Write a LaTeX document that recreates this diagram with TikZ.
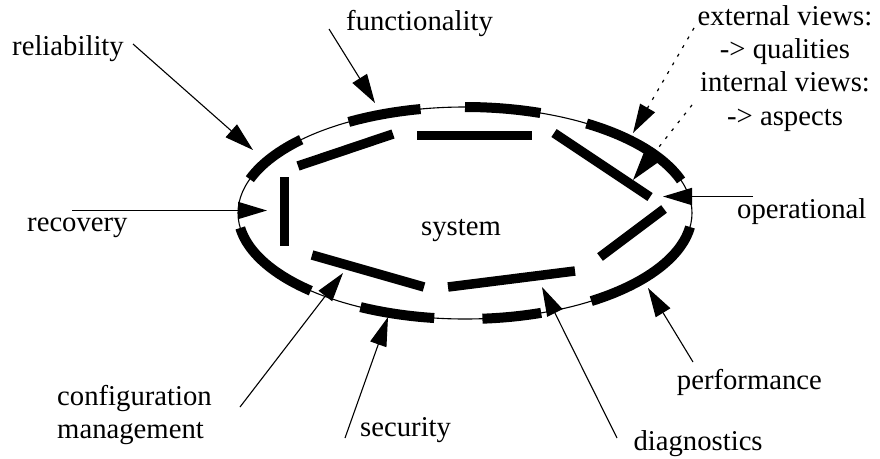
\documentclass[tikz,border=0pt]{standalone}
\usepackage{fontspec}
\setmainfont{Liberation Serif}
\usetikzlibrary{arrows.meta}

\tikzset{
  rim/.style={line width=1.1pt},
  outerseg/.style={line width=10pt},
  innerbar/.style={line width=9.5pt},
  pointer/.style={line width=1.1pt, -{Triangle[length=29pt,width=17pt]}},
  flatptr/.style={pointer, line width=1.8pt},
  viewptr/.style={pointer, line width=1.2pt, dash pattern=on 3pt off 7pt},
  lbl/.style={font=\fontsize{28.7}{33.2}\selectfont, inner sep=0pt, anchor=base west},
}

% thick piece of the system boundary between two parameter angles
\newcommand{\rimpiece}[2]{%
  \draw[outerseg] plot[domain=#1:#2, samples=40, variable=\t]
    ({465+227*cos(\t)},{213+106*sin(\t)});}

\begin{document}
\begin{tikzpicture}[x=1pt,y=-1pt]
  \useasboundingbox (0,0) rectangle (880,458);

  % system boundary
  \draw[rim] (465,213) ellipse [x radius=227, y radius=106];
  \rimpiece{198.6}{223.8}
  \rimpiece{239.2}{258.7}
  \rimpiece{270}{289.4}
  \rimpiece{302.4}{342.1}
  \rimpiece{7.6}{56.2}
  \rimpiece{70.4}{85.6}
  \rimpiece{97.8}{117.4}
  \rimpiece{132.8}{171.9}

  % inner structure
  \draw[innerbar] (298,166) -- (393,134);
  \draw[innerbar] (417,135.5) -- (532,135.5);
  \draw[innerbar] (554,133) -- (650,197);
  \draw[innerbar] (664,209) -- (600,257);
  \draw[innerbar] (448,287) -- (575,271);
  \draw[innerbar] (312,255) -- (424,287);
  \draw[innerbar] (284.3,177) -- (284.3,246);

  % labels
  \node[lbl] (rel) at (12,55) {reliability};
  \node[lbl] (fun) at (346,30) {functionality};
  \node[lbl, anchor=base, align=center] (views) at (785,125)
    {external views:\\-> qualities\\internal views:\\-> aspects};
  \node[lbl] (ope) at (737,218) {operational};
  \node[lbl] (rec) at (27,231) {recovery};
  \node[lbl] (sys) at (421,235) {system};
  \node[lbl, align=left, anchor=base west] (cfg) at (57,438.5) {configuration\\management};
  \node[lbl] (sec) at (360,436.7) {security};
  \node[lbl] (per) at (676.7,389.3) {performance};
  \node[lbl] (dia) at (633.3,450) {diagnostics};

  % pointer ends
  \coordinate (relS) at (133,44);   \coordinate (relT) at (253,150);
  \coordinate (funS) at (329,29);   \coordinate (funT) at (375,103);
  \coordinate (extS) at (694,28);   \coordinate (extT) at (633,133);
  \coordinate (intS) at (692,105);  \coordinate (intT) at (633,180);
  \coordinate (opeS) at (753,196.5);\coordinate (opeT) at (663,196.5);
  \coordinate (recS) at (72,210.5); \coordinate (recT) at (267,210.5);
  \coordinate (cfgS) at (240,407);  \coordinate (cfgT) at (343,273);
  \coordinate (secS) at (345,438);  \coordinate (secT) at (388,317);
  \coordinate (diaS) at (617,438);  \coordinate (diaT) at (542,287);
  \coordinate (perS) at (693,362);  \coordinate (perT) at (648,288);

  % pointers
  \draw[pointer] (relS) -- (relT);
  \draw[pointer] (funS) -- (funT);
  \draw[viewptr] (extS) -- (extT);
  \draw[viewptr] (intS) -- (intT);
  \draw[flatptr] (opeS) -- (opeT);
  \draw[flatptr] (recS) -- (recT);
  \draw[pointer] (cfgS) -- (cfgT);
  \draw[pointer] (secS) -- (secT);
  \draw[pointer] (diaS) -- (diaT);
  \draw[pointer] (perS) -- (perT);
\end{tikzpicture}
\end{document}
